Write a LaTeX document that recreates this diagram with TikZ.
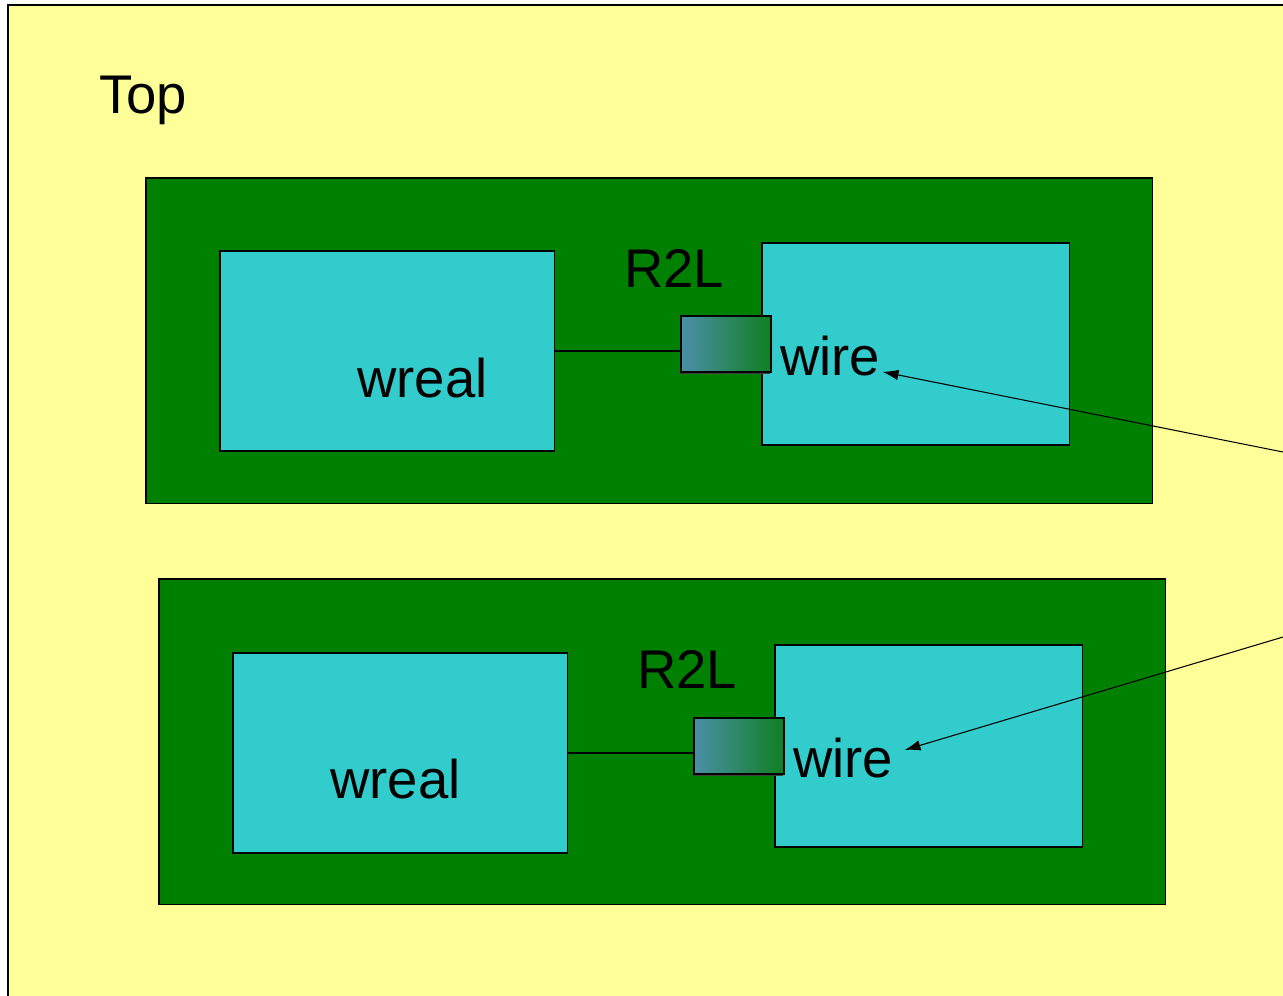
\documentclass[tikz,border=0pt]{standalone}
\usepackage{fontspec}
\setmainfont{Liberation Sans}
\usetikzlibrary{arrows.meta,shadows}
\definecolor{topFill}{HTML}{FFFF99}
\definecolor{modGreen}{HTML}{008000}
\definecolor{blkCyan}{HTML}{33CCCC}
\definecolor{cvtLeft}{HTML}{4A8FA8}
\definecolor{cvtRight}{HTML}{107F20}

\begin{document}
\begin{tikzpicture}[
  x=0.02cm, y=-0.02cm,
  box/.style={draw=black, line width=0.6pt, anchor=north west,
              inner sep=0pt, outer sep=0pt},
  module/.style={box, fill=modGreen, minimum width=20.14cm, minimum height=6.52cm},
  wrealbox/.style={box, fill=blkCyan, minimum width=6.7cm, minimum height=4cm},
  wirebox/.style={box, fill=blkCyan, minimum width=6.16cm, minimum height=4.04cm},
  cvt/.style={box, left color=cvtLeft, right color=cvtRight,
              minimum width=1.8cm, minimum height=1.12cm,
              drop shadow={shadow xshift=-0.6pt, shadow yshift=-1.1pt,
                           fill=black!75, opacity=1}},
  lbl/.style={anchor=base west, inner sep=0pt,
              font=\fontsize{31}{37}\selectfont},
  link/.style={line width=0.6pt}
]
  \useasboundingbox (0,0) rectangle (1283,995);
  \node[box, fill=topFill, minimum width=25.9cm, minimum height=20cm] (top) at (8,5) {};
  \node[lbl] (toplbl) at (99,113) {Top};

  % first R2L
  \node[module]   (mod1)   at (146,178) {};
  \node[wrealbox] (wreal1) at (220,251) {};
  \node[wirebox]  (wblk1)  at (762,243) {};
  \node[cvt]      (cvt1)   at (681,316) {};
  \node[lbl] (wreallbl1) at (357,397) {wreal};
  \node[lbl] (r2l1)      at (624,287) {R2L};
  \node[lbl] (wire1)     at (780,375) {wire};

  % second R2L
  \node[module]   (mod2)   at (159,579) {};
  \node[wrealbox] (wreal2) at (233,653) {};
  \node[wirebox]  (wblk2)  at (775,645) {};
  \node[cvt]      (cvt2)   at (694,718) {};
  \node[lbl] (wreallbl2) at (330,798) {wreal};
  \node[lbl] (r2l2)      at (637,688) {R2L};
  \node[lbl] (wire2)     at (793,777) {wire};

  \coordinate (src1) at (1283,452);
  \coordinate (src2) at (1283,637);

  \foreach \a/\b in {wreal1/cvt1,wreal2/cvt2}
    \draw[link] (\a.east) -- (\a.east -| \b.west);
  \foreach \a/\b/\dx/\dy in {src1/wire1/1.2pt/2.3pt,src2/wire2/6.3pt/15.9pt}
    \draw[link,-{Latex[length=9pt,width=6pt]}] (\a) -- ([xshift=\dx,yshift=\dy]\b.south east);
\end{tikzpicture}
\end{document}
